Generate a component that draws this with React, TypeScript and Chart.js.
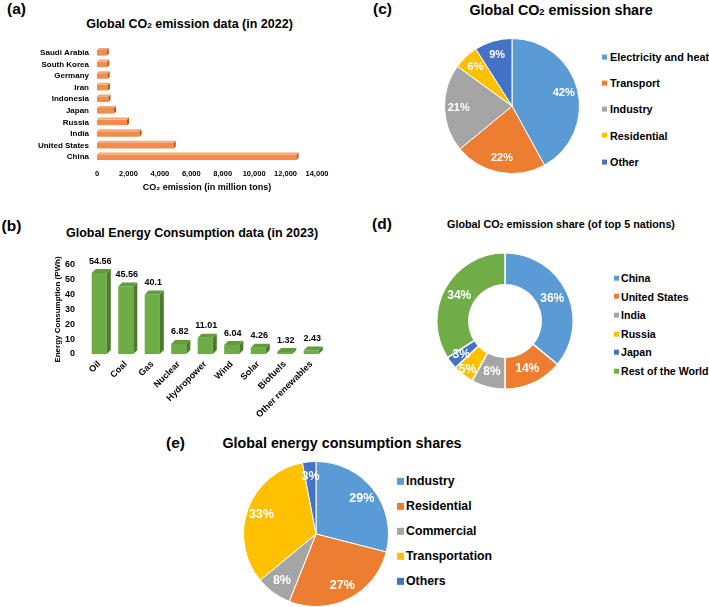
import React, { useEffect, useRef } from 'react';
import { Chart, registerables } from 'chart.js';

Chart.register(...registerables);

const FONT = "'Liberation Sans', Arial, Helvetica, sans-serif";
Chart.defaults.font.family = FONT;
Chart.defaults.color = '#000';

// (a) Global CO2 emission data (in 2022), million tons
const emissionCountries = ['China', 'United States', 'India', 'Russia', 'Japan', 'Indonesia', 'Iran', 'Germany', 'South Korea', 'Saudi Arabia'];
const emissionValues = [12700, 4880, 2710, 1910, 1080, 730, 700, 680, 650, 620];
const emissionAxisMax = 14000;
const emissionAxisStep = 2000;

// (b) Global Energy Consumption data (in 2023), PWh
const energySources = ['Oil', 'Coal', 'Gas', 'Nuclear', 'Hydropower', 'Wind', 'Solar', 'Biofuels', 'Other renewables'];
const energyValues = [54.56, 45.56, 40.1, 6.82, 11.01, 6.04, 4.26, 1.32, 2.43];
const energyAxisMax = 60;
const energyAxisStep = 10;

// (c) Global CO2 emission share (%)
const sectorLabels = ['Electricity and heat', 'Transport', 'Industry', 'Residential', 'Other'];
const sectorShares = [42, 22, 21, 6, 9];

// (d) Global CO2 emission share of top 5 nations (%)
const nationLabels = ['China', 'United States', 'India', 'Russia', 'Japan', 'Rest of the World'];
const nationShares = [36, 14, 8, 5, 3, 34];

// (e) Global energy consumption shares (%)
const consumptionLabels = ['Industry', 'Residential', 'Commercial', 'Transportation', 'Others'];
const consumptionShares = [29, 27, 8, 33, 3];

const BLUE = '#5B9BD5';
const ORANGE = '#ED7D31';
const GRAY = '#A5A5A5';
const GOLD = '#FFC000';
const DARKBLUE = '#4472C4';
const GREEN = '#70AD47';

const sectorColors = [BLUE, ORANGE, GRAY, GOLD, DARKBLUE];
const nationColors = [BLUE, ORANGE, GRAY, GOLD, DARKBLUE, GREEN];
const consumptionColors = [BLUE, ORANGE, GRAY, GOLD, DARKBLUE];

const bar3d = {
  id: 'bar3d',
  afterDatasetsDraw(chart: any, _args: any, opts: any) {
    const { ctx } = chart;
    const d = opts.depth;
    const horizontal = chart.options.indexAxis === 'y';
    chart.getDatasetMeta(0).data.forEach((el: any) => {
      const p = el.getProps(['x', 'y', 'base', 'width', 'height'], true);
      let l, r, t, b;
      if (horizontal) {
        l = Math.min(p.base, p.x); r = Math.max(p.base, p.x); t = p.y - p.height / 2; b = p.y + p.height / 2;
      } else {
        l = p.x - p.width / 2; r = p.x + p.width / 2; t = Math.min(p.y, p.base); b = Math.max(p.y, p.base);
      }
      ctx.save();
      ctx.fillStyle = opts.side;
      ctx.beginPath();
      ctx.moveTo(r, t); ctx.lineTo(r + d, t - d); ctx.lineTo(r + d, b - d); ctx.lineTo(r, b);
      ctx.closePath(); ctx.fill();
      ctx.fillStyle = opts.top;
      ctx.beginPath();
      ctx.moveTo(l, t); ctx.lineTo(l + d, t - d); ctx.lineTo(r + d, t - d); ctx.lineTo(r, t);
      ctx.closePath(); ctx.fill();
      ctx.restore();
    });
  },
};

const barValues = {
  id: 'barValues',
  afterDatasetsDraw(chart: any, _args: any, opts: any) {
    if (!opts || !opts.show) return;
    const { ctx } = chart;
    const ds = chart.data.datasets[0];
    ctx.save();
    ctx.font = `bold ${opts.size}px ${FONT}`;
    ctx.fillStyle = '#000';
    ctx.textAlign = 'center';
    ctx.textBaseline = 'middle';
    chart.getDatasetMeta(0).data.forEach((el: any, i: number) => {
      const p = el.getProps(['x', 'y'], true);
      ctx.fillText(String(ds.data[i]), p.x + 1, p.y - opts.offset);
    });
    ctx.restore();
  },
};

const pieLabels = {
  id: 'pieLabels',
  afterDatasetsDraw(chart: any, _args: any, opts: any) {
    const { ctx } = chart;
    const ds = chart.data.datasets[0];
    ctx.save();
    ctx.fillStyle = '#fff';
    ctx.font = `bold ${opts.size}px ${FONT}`;
    ctx.textAlign = 'center';
    ctx.textBaseline = 'middle';
    chart.getDatasetMeta(0).data.forEach((arc: any, i: number) => {
      const p = arc.getProps(['x', 'y', 'startAngle', 'endAngle', 'innerRadius', 'outerRadius'], true);
      const mid = (p.startAngle + p.endAngle) / 2;
      const f = Array.isArray(opts.frac) ? opts.frac[i] : opts.frac;
      const r = p.innerRadius + (p.outerRadius - p.innerRadius) * f;
      ctx.fillText(ds.data[i] + '%', p.x + Math.cos(mid) * r, p.y + Math.sin(mid) * r);
    });
    ctx.restore();
  },
};

function ChartCanvas({ left, top, width, height, make }: any) {
  const ref = useRef<HTMLCanvasElement>(null);
  useEffect(() => {
    const chart = new Chart(ref.current as HTMLCanvasElement, make());
    return () => chart.destroy();
  }, []);
  return (
    <canvas
      ref={ref}
      width={width}
      height={height}
      style={{ position: 'absolute', left, top, width, height, display: 'block' }}
    />
  );
}

const noGrid = { display: false, drawTicks: false };

const makeEmission = () => ({
  type: 'bar',
  data: {
    labels: emissionCountries,
    datasets: [{ data: emissionValues, backgroundColor: '#F28C4C', borderWidth: 0, barPercentage: 0.48, categoryPercentage: 1 }],
  },
  options: {
    indexAxis: 'y',
    animation: false,
    responsive: false,
    maintainAspectRatio: false,
    layout: { padding: { left: 0, right: 25, top: 17, bottom: 0 } },
    plugins: {
      legend: { display: false },
      tooltip: { enabled: false },
      bar3d: { depth: 2, side: '#B9541B', top: '#F6A673' },
    },
    scales: {
      x: {
        min: 0,
        max: emissionAxisMax,
        ticks: { stepSize: emissionAxisStep, font: { size: 7.5, weight: 'bold' }, color: '#000', padding: 6 },
        grid: noGrid,
        border: { display: false },
        title: { display: true, text: 'CO₂ emission (in million tons)', font: { size: 9, weight: 'bold' }, color: '#000', padding: { top: 2, bottom: 3 } },
        afterFit: (s: any) => { s.height = 33; },
      },
      y: {
        reverse: true,
        ticks: { font: { size: 8, weight: 'bold' }, color: '#000', padding: 8, autoSkip: false },
        grid: noGrid,
        border: { display: false },
        afterFit: (s: any) => { s.width = 97; },
      },
    },
  },
  plugins: [bar3d],
});

const makeEnergy = () => ({
  type: 'bar',
  data: {
    labels: energySources,
    datasets: [{ data: energyValues, backgroundColor: '#6EAD45', borderWidth: 0, barPercentage: 0.57, categoryPercentage: 1 }],
  },
  options: {
    animation: false,
    responsive: false,
    maintainAspectRatio: false,
    layout: { padding: { left: 48, right: 15.5, top: 25, bottom: 0 } },
    plugins: {
      legend: { display: false },
      tooltip: { enabled: false },
      bar3d: { depth: 4, side: '#4D7B2E', top: '#5F9C3B' },
      barValues: { show: true, size: 9, offset: 12 },
    },
    scales: {
      x: {
        ticks: { font: { size: 9, weight: 'bold' }, color: '#000', minRotation: 45, maxRotation: 45, padding: 5, autoSkip: false },
        grid: noGrid,
        border: { display: false },
        afterFit: (s: any) => { s.height = 64; },
      },
      y: {
        min: 0,
        max: energyAxisMax,
        ticks: { stepSize: energyAxisStep, font: { size: 9, weight: 'bold' }, color: '#000', padding: 11 },
        grid: noGrid,
        border: { display: false },
        title: { display: true, text: 'Energy Consumption (PWh)', font: { size: 8, weight: 'bold' }, color: '#000', padding: { top: 4.5, bottom: 0 } },
        afterFit: (s: any) => { s.width = 38; },
      },
    },
  },
  plugins: [bar3d, barValues],
});

const makePie = (labels: string[], values: number[], colors: string[], opts: any) => () => ({
  type: opts.cutout ? 'doughnut' : 'pie',
  data: {
    labels,
    datasets: [{ data: values, backgroundColor: colors, borderColor: '#fff', borderWidth: opts.border }],
  },
  options: {
    animation: false,
    responsive: false,
    maintainAspectRatio: false,
    cutout: opts.cutout || 0,
    layout: { padding: 0 },
    plugins: {
      legend: { display: false },
      tooltip: { enabled: false },
      pieLabels: { size: opts.size, frac: opts.frac },
    },
  },
  plugins: [pieLabels],
});

function Text({ x, y, size, children, align = 'center' }: any) {
  return (
    <div
      style={{
        position: 'absolute',
        left: x,
        top: y,
        transform: align === 'center' ? 'translate(-50%, -50%)' : 'translateY(-50%)',
        font: `bold ${size}px ${FONT}`,
        lineHeight: 1,
        whiteSpace: 'nowrap',
        color: '#000',
      }}
    >
      {children}
    </div>
  );
}

function Legend({ items, colors, x, y0, step, box, size, gap }: any) {
  return (
    <>
      {items.map((t: string, i: number) => (
        <div
          key={t}
          style={{
            position: 'absolute',
            left: x,
            top: y0 + i * step,
            transform: 'translateY(-50%)',
            display: 'flex',
            alignItems: 'center',
            whiteSpace: 'nowrap',
            font: `bold ${size}px ${FONT}`,
            lineHeight: 1,
            color: '#000',
          }}
        >
          <span style={{ display: 'inline-block', width: box, height: box, background: colors[i], marginRight: gap }} />
          {t}
        </div>
      ))}
    </>
  );
}

const CO2 = (
  <>
    CO<span style={{ fontSize: '0.65em' }}>2</span>
  </>
);

export default function App() {
  return (
    <div style={{ position: 'absolute', left: 0, top: 0, width: 709, height: 607, overflow: 'hidden', background: '#fff' }}>
      {/* (a) */}
      <Text x={16.5} y={9} size={15.5}>(a)</Text>
      <Text x={189.5} y={24} size={12.5}>Global {CO2} emission data (in 2022)</Text>
      <ChartCanvas left={0} top={30} width={342} height={166} make={makeEmission} />

      {/* (b) */}
      <Text x={11.5} y={226} size={15.5}>(b)</Text>
      <Text x={192} y={233} size={12.5}>Global Energy Consumption data (in 2023)</Text>
      <ChartCanvas left={0} top={240} width={340} height={178} make={makeEnergy} />

      {/* (c) */}
      <Text x={382.5} y={9} size={15.5}>(c)</Text>
      <Text x={561} y={10} size={14.3}>Global {CO2} emission share</Text>
      <ChartCanvas left={444} top={38} width={136} height={136} make={makePie(sectorLabels, sectorShares, sectorColors, { border: 1, size: 11, frac: 0.79 })} />
      <Legend items={sectorLabels} colors={sectorColors} x={602} y0={57} step={26.2} box={5} size={10.8} gap={3} />

      {/* (d) */}
      <Text x={382} y={224} size={15.5}>(d)</Text>
      <Text x={561} y={224} size={10.75}>Global {CO2} emission share (of top 5 nations)</Text>
      <ChartCanvas left={436} top={252} width={138} height={138} make={makePie(nationLabels, nationShares, nationColors, { border: 1.5, size: 12, cutout: '53%', frac: [0.5, 0.5, 0.5, 0.78, 0.6, 0.5] })} />
      <Legend items={nationLabels} colors={nationColors} x={614} y0={278} step={18.6} box={5} size={10.6} gap={2} />

      {/* (e) */}
      <Text x={175.5} y={443} size={15.5}>(e)</Text>
      <Text x={342} y={443} size={14.3}>Global energy consumption shares</Text>
      <ChartCanvas left={243} top={461} width={146} height={146} make={makePie(consumptionLabels, consumptionShares, consumptionColors, { border: 1, size: 12.5, frac: 0.8 })} />
      <Legend items={consumptionLabels} colors={consumptionColors} x={397} y0={481} step={25} box={7} size={12.3} gap={2} />
    </div>
  );
}
